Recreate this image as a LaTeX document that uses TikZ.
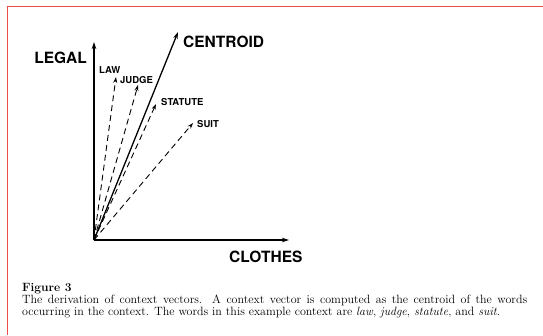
\documentclass[tikz,border=0pt]{standalone}
\usepackage{fontspec}
\newfontfamily\hv{TeX Gyre Heros}
\usetikzlibrary{arrows.meta}
\definecolor{frame}{RGB}{240,75,75}
\tikzset{
  axis/.style={line width=1.3pt,-{Stealth[length=7pt,width=4.5pt]}},
  cvec/.style={line width=1.3pt,-{Stealth[length=7pt,width=4.5pt]}},
  wvec/.style={line width=0.9pt,dash pattern=on 6pt off 4pt,-{Stealth[length=6pt,width=4pt]}},
  big/.style={inner sep=0pt,font=\hv\bfseries\fontsize{15.5}{18}\selectfont},
  small/.style={inner sep=0pt,font=\hv\bfseries\fontsize{9.5}{11}\selectfont},
  captext/.style={inner sep=0pt,anchor=base west,font=\fontsize{12}{14}\selectfont}
}
\begin{document}
\begin{tikzpicture}[x=1pt,y=-1pt]
\useasboundingbox (0,0) rectangle (543,335);
\fill[white] (0,0) rectangle (543,335);
\draw[frame,line width=1pt] (7,335) -- (7,6) -- (543,6);
\coordinate (O) at (94,240);
\coordinate (X) at (289,240);
\coordinate (Y) at (94,42);
\coordinate (C) at (178,32);
\coordinate (tlaw) at (116,77);
\coordinate (tjudge) at (138,85);
\coordinate (tstatute) at (156,104);
\coordinate (tsuit) at (193,123);
\draw[axis] (O) -- (X);
\draw[axis] (O) -- (Y);
\draw[cvec] (O) -- (C);
\draw[wvec] (O) -- (tlaw);
\draw[wvec] (O) -- (tjudge);
\draw[wvec] (O) -- (tstatute);
\draw[wvec] (O) -- (tsuit);
\node[big,anchor=base east] (legal) at (87,63) {LEGAL};
\node[big,anchor=base west] (centroid) at (183,47.5) {CENTROID};
\node[big,anchor=base west] (clothes) at (229,262) {CLOTHES};
\node[small,anchor=base west] (law) at (99,73) {LAW};
\node[small,anchor=base west] (judge) at (120,83) {JUDGE};
\node[small,anchor=base west] (statute) at (161,105) {STATUTE};
\node[small,anchor=base west] (suit) at (197,127) {SUIT};
\node[captext] (fig) at (22,291) {\bfseries Figure 3};
\node[captext] (l1) at (22,303) {\hbox to 505pt{The derivation of context vectors. A context vector is computed as the centroid of the words}};
\node[captext] (l2) at (22,315.5) {occurring in the context. The words in this example context are \textit{law}, \textit{judge}, \textit{statute}, and \textit{suit}.};
\end{tikzpicture}
\end{document}
